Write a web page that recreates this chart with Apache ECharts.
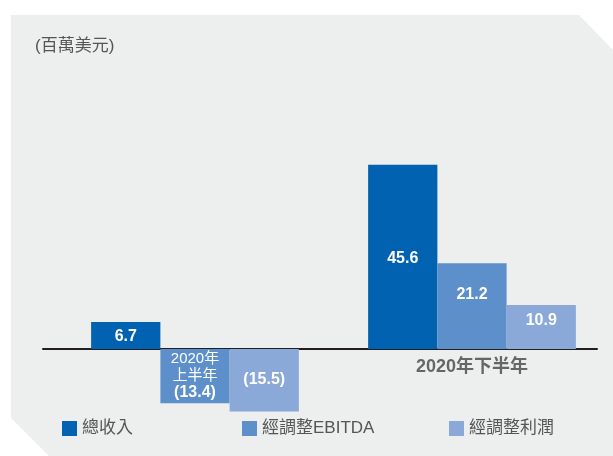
<!DOCTYPE html>
<html>
<head>
<meta charset="utf-8">
<script src="https://cdn.jsdelivr.net/npm/echarts@6/dist/echarts.min.js"></script>
<style>
  html, body { margin: 0; padding: 0; background: #fff; }
  #chart { width: 613px; height: 456px; }
</style>
</head>
<body>
<div id="chart"></div>
<script>
const categories = ['2020年上半年', '2020年下半年'];
const seriesNames = ['總收入', '經調整EBITDA', '經調整利潤'];
const revenue = [6.7, 45.6];
const ebitda = [-13.4, 21.2];
const netProfit = [-15.5, 10.9];
const unitLabel = '(百萬美元)';

const colors = ['#0062b1', '#5d8fca', '#8aa8d8'];
const cjk = '"Liberation Sans", "Noto Sans CJK TC", sans-serif';

function fmt(v) {
  return v < 0 ? '(' + Math.abs(v).toFixed(1) + ')' : v.toFixed(1);
}

const chart = echarts.init(document.getElementById('chart'));

const labelBase = {
  show: true,
  position: 'inside',
  color: '#fff',
  fontSize: 16,
  fontWeight: 'bold',
  fontFamily: cjk
};

function makeSeries(idx, values, offsets) {
  return {
    name: seriesNames[idx],
    type: 'bar',
    barGap: '0%',
    barCategoryGap: '25%',
    itemStyle: { color: colors[idx] },
    data: values.map((v, i) => ({
      value: v,
      label: Object.assign({}, labelBase, { offset: offsets[i] })
    })),
    label: Object.assign({}, labelBase, {
      formatter: p => fmt(p.value)
    })
  };
}

const sRevenue = makeSeries(0, revenue, [[0, 1], [0, 2]]);
const sEbitda = makeSeries(1, ebitda, [[0, 0], [0, -12]]);
const sNet = makeSeries(2, netProfit, [[0, -1], [0, -6]]);

// first half label sits inside the EBITDA bar
sEbitda.data[0].label = {
  show: true,
  position: 'inside',
  formatter: '{a|2020年}\n{a|上半年}\n{b|' + fmt(ebitda[0]) + '}',
  rich: {
    a: { color: '#fff', fontSize: 15, fontWeight: 'normal', fontFamily: cjk, lineHeight: 16.5 },
    b: { color: '#fff', fontSize: 16, fontWeight: 'bold', fontFamily: cjk, lineHeight: 17 }
  }
};

const legendText = { color: '#555', fontSize: 17, fontFamily: cjk };

const hiddenValueAxis = (grid) => ({
  type: 'value',
  gridIndex: grid,
  min: -20,
  max: 50,
  axisLine: { show: false },
  axisTick: { show: false },
  axisLabel: { show: false },
  splitLine: { show: false }
});

const option = {
  backgroundColor: '#fff',
  animation: false,
  graphic: [{
    type: 'polygon',
    z: -10,
    shape: { points: [[11, 15], [579, 15], [613, 50], [613, 456], [49, 456], [11, 418]] },
    style: { fill: '#edeeee' }
  }],
  title: {
    text: unitLabel,
    left: 30,
    top: 33,
    textStyle: { color: '#555', fontSize: 17, fontWeight: 'normal', fontFamily: cjk }
  },
  legend: seriesNames.map((n, i) => ({
    data: [n],
    left: [57, 237, 444][i],
    top: 415,
    itemWidth: 15,
    itemHeight: 15,
    icon: 'rect',
    itemGap: 0,
    textStyle: legendText,
    selectedMode: false
  })),
  grid: [
    { left: 56.5, right: 2.5, top: 147, bottom: 26.2 },
    { left: 43, right: 16, top: 147, bottom: 26.2 }
  ],
  xAxis: [{
    type: 'category',
    gridIndex: 0,
    data: categories,
    axisLine: { show: false },
    axisTick: { show: false },
    axisLabel: {
      // pulled up so it sits just under the zero line
      margin: -72,
      color: '#666',
      fontSize: 18,
      fontWeight: 'bold',
      fontFamily: cjk,
      formatter: (v, i) => (i === 0 ? '' : v)
    }
  }, {
    type: 'value',
    gridIndex: 1,
    axisLine: { show: true, onZero: true, lineStyle: { color: '#231f20', width: 2 } },
    axisTick: { show: false },
    axisLabel: { show: false },
    splitLine: { show: false }
  }],
  yAxis: [hiddenValueAxis(0), hiddenValueAxis(1)],
  series: [sRevenue, sEbitda, sNet]
};

chart.setOption(option);
</script>
</body>
</html>
